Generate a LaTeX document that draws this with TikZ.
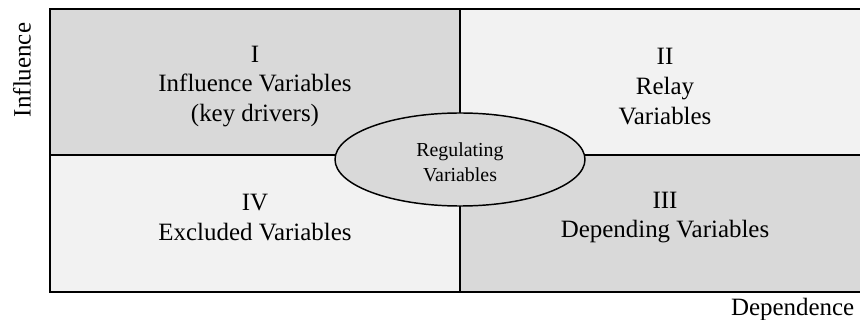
\documentclass[tikz,border=0pt]{standalone}
\usepackage{fontspec}
\setmainfont{Liberation Serif}
\usetikzlibrary{shapes.geometric}

\tikzset{
  quad/.style={align=center,font=\fontsize{18.7}{22.2}\selectfont},
  darkq/.style={fill=black!15},
  lightq/.style={fill=black!5},
}

\begin{document}
\begin{tikzpicture}[x=0.75pt,y=-0.75pt]
        \useasboundingbox (0,0) rectangle (860,320);

        % quadrants
        \fill[darkq] (49.5,9) rectangle (460,155);
        \fill[lightq] (460,9) rectangle (862,155);
        \fill[darkq] (460,155) rectangle (862,292);
        \fill[lightq] (49.5,155) rectangle (460,292);

        \coordinate (tl) at (49.5,9);
        \coordinate (br) at (862,292);
        \coordinate (ml) at (49.5,155);
        \coordinate (mr) at (862,155);
        \coordinate (mt) at (460,9);
        \coordinate (mb) at (460,292);

        \draw[line width=1.5pt] (ml) -- (mr);
        \draw[line width=1.5pt] (mt) -- (mb);
        \draw[line width=1.5pt] (tl) rectangle (br);

        \node[draw,ellipse,fill=black!15,line width=1.1pt,minimum width=250*0.75pt,minimum height=93*0.75pt,inner sep=0pt] (reg) at (460,159.5) {};
        \node[align=center,font=\fontsize{14.9}{18.7}\selectfont] (regt) at (460,162) {Regulating\\Variables};

        \node[quad] (q1) at (255,86.5) {I\\Influence Variables\\(key drivers)};
        \node[quad] (q2) at (665,86.5) {II\\Relay\\Variables};
        \node[quad] (q3) at (665,217.5) {III\\Depending Variables};
        \node[quad] (q4) at (255,217.5) {IV\\Excluded Variables};

        \node[quad,rotate=90] (yl) at (22,70) {Influence};
        \node[quad,anchor=east] (xl) at (859,310) {Dependence};
    \end{tikzpicture}
\end{document}
